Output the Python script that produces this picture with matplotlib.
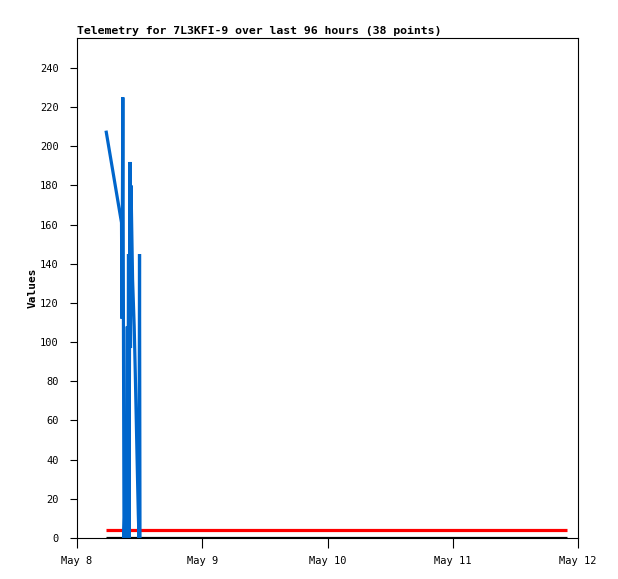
import numpy as np
import matplotlib
matplotlib.use("Agg")
import matplotlib.pyplot as plt

# hours since May 8 00:00
hours = [5.56, 8.53, 8.62, 8.78, 9.01, 9.39, 9.49, 9.64, 9.73, 9.87, 9.96,
         10.16, 10.25, 10.35, 10.50, 10.65, 10.96, 11.17, 11.36, 11.55, 11.75,
         11.88, 11.98, 12.07,
         14.5, 20.3, 26.8, 33.1, 39.6, 45.2, 51.7, 57.4, 63.9, 69.5, 75.8,
         82.1, 88.0, 93.9]
nan = np.nan
blue_vals = [208, 161, 112, 225, 0, 36, 0, 108, 0, 145, 0,
             192, 97, 180, 156, 132, 108, 84, 60, 36, 12,
             0, 145, 0,
             nan, nan, nan, nan, nan, nan, nan, nan, nan, nan, nan,
             nan, nan, nan]
red_vals = [4] * 38
black_vals = [0] * 38

tick_hours = [0, 24, 48, 72, 96]
tick_labels = ["May 8", "May 9", "May 10", "May 11", "May 12"]
y_ticks = list(range(0, 241, 20))

fig = plt.figure(figsize=(6.18, 5.79), dpi=100)
ax = fig.add_axes([77 / 618, 1 - 538 / 579, 501 / 618, 500 / 579])

line_kw = dict(lw=2.3, solid_capstyle="butt", solid_joinstyle="miter")
ax.plot(hours, black_vals, color="black", **line_kw)
ax.plot(hours, red_vals, color="#ff0000", **line_kw)
ax.plot(hours, blue_vals, color="#0066cc", **line_kw)

ax.set_xlim(0, 96)
ax.set_ylim(0, 255.3)
ax.set_xticks(tick_hours)
ax.set_xticklabels(tick_labels)
ax.set_yticks(y_ticks)

for s in ax.spines.values():
    s.set_linewidth(0.8)
ax.tick_params(axis="x", direction="out", length=7, width=0.8, pad=6,
               labelsize=7.5)
ax.tick_params(axis="y", direction="out", length=5, width=0.8, pad=8,
               labelsize=7.5)
for lab in ax.get_xticklabels() + ax.get_yticklabels():
    lab.set_family("DejaVu Sans Mono")

ax.set_title("Telemetry for 7L3KFI-9 over last 96 hours (38 points)",
             loc="left", family="DejaVu Sans Mono", fontweight="bold",
             fontsize=8.25, pad=3)
ax.set_ylabel("Values", family="DejaVu Sans Mono", fontweight="bold",
              fontsize=8, labelpad=2)

fig.savefig("out.png", dpi=100)
